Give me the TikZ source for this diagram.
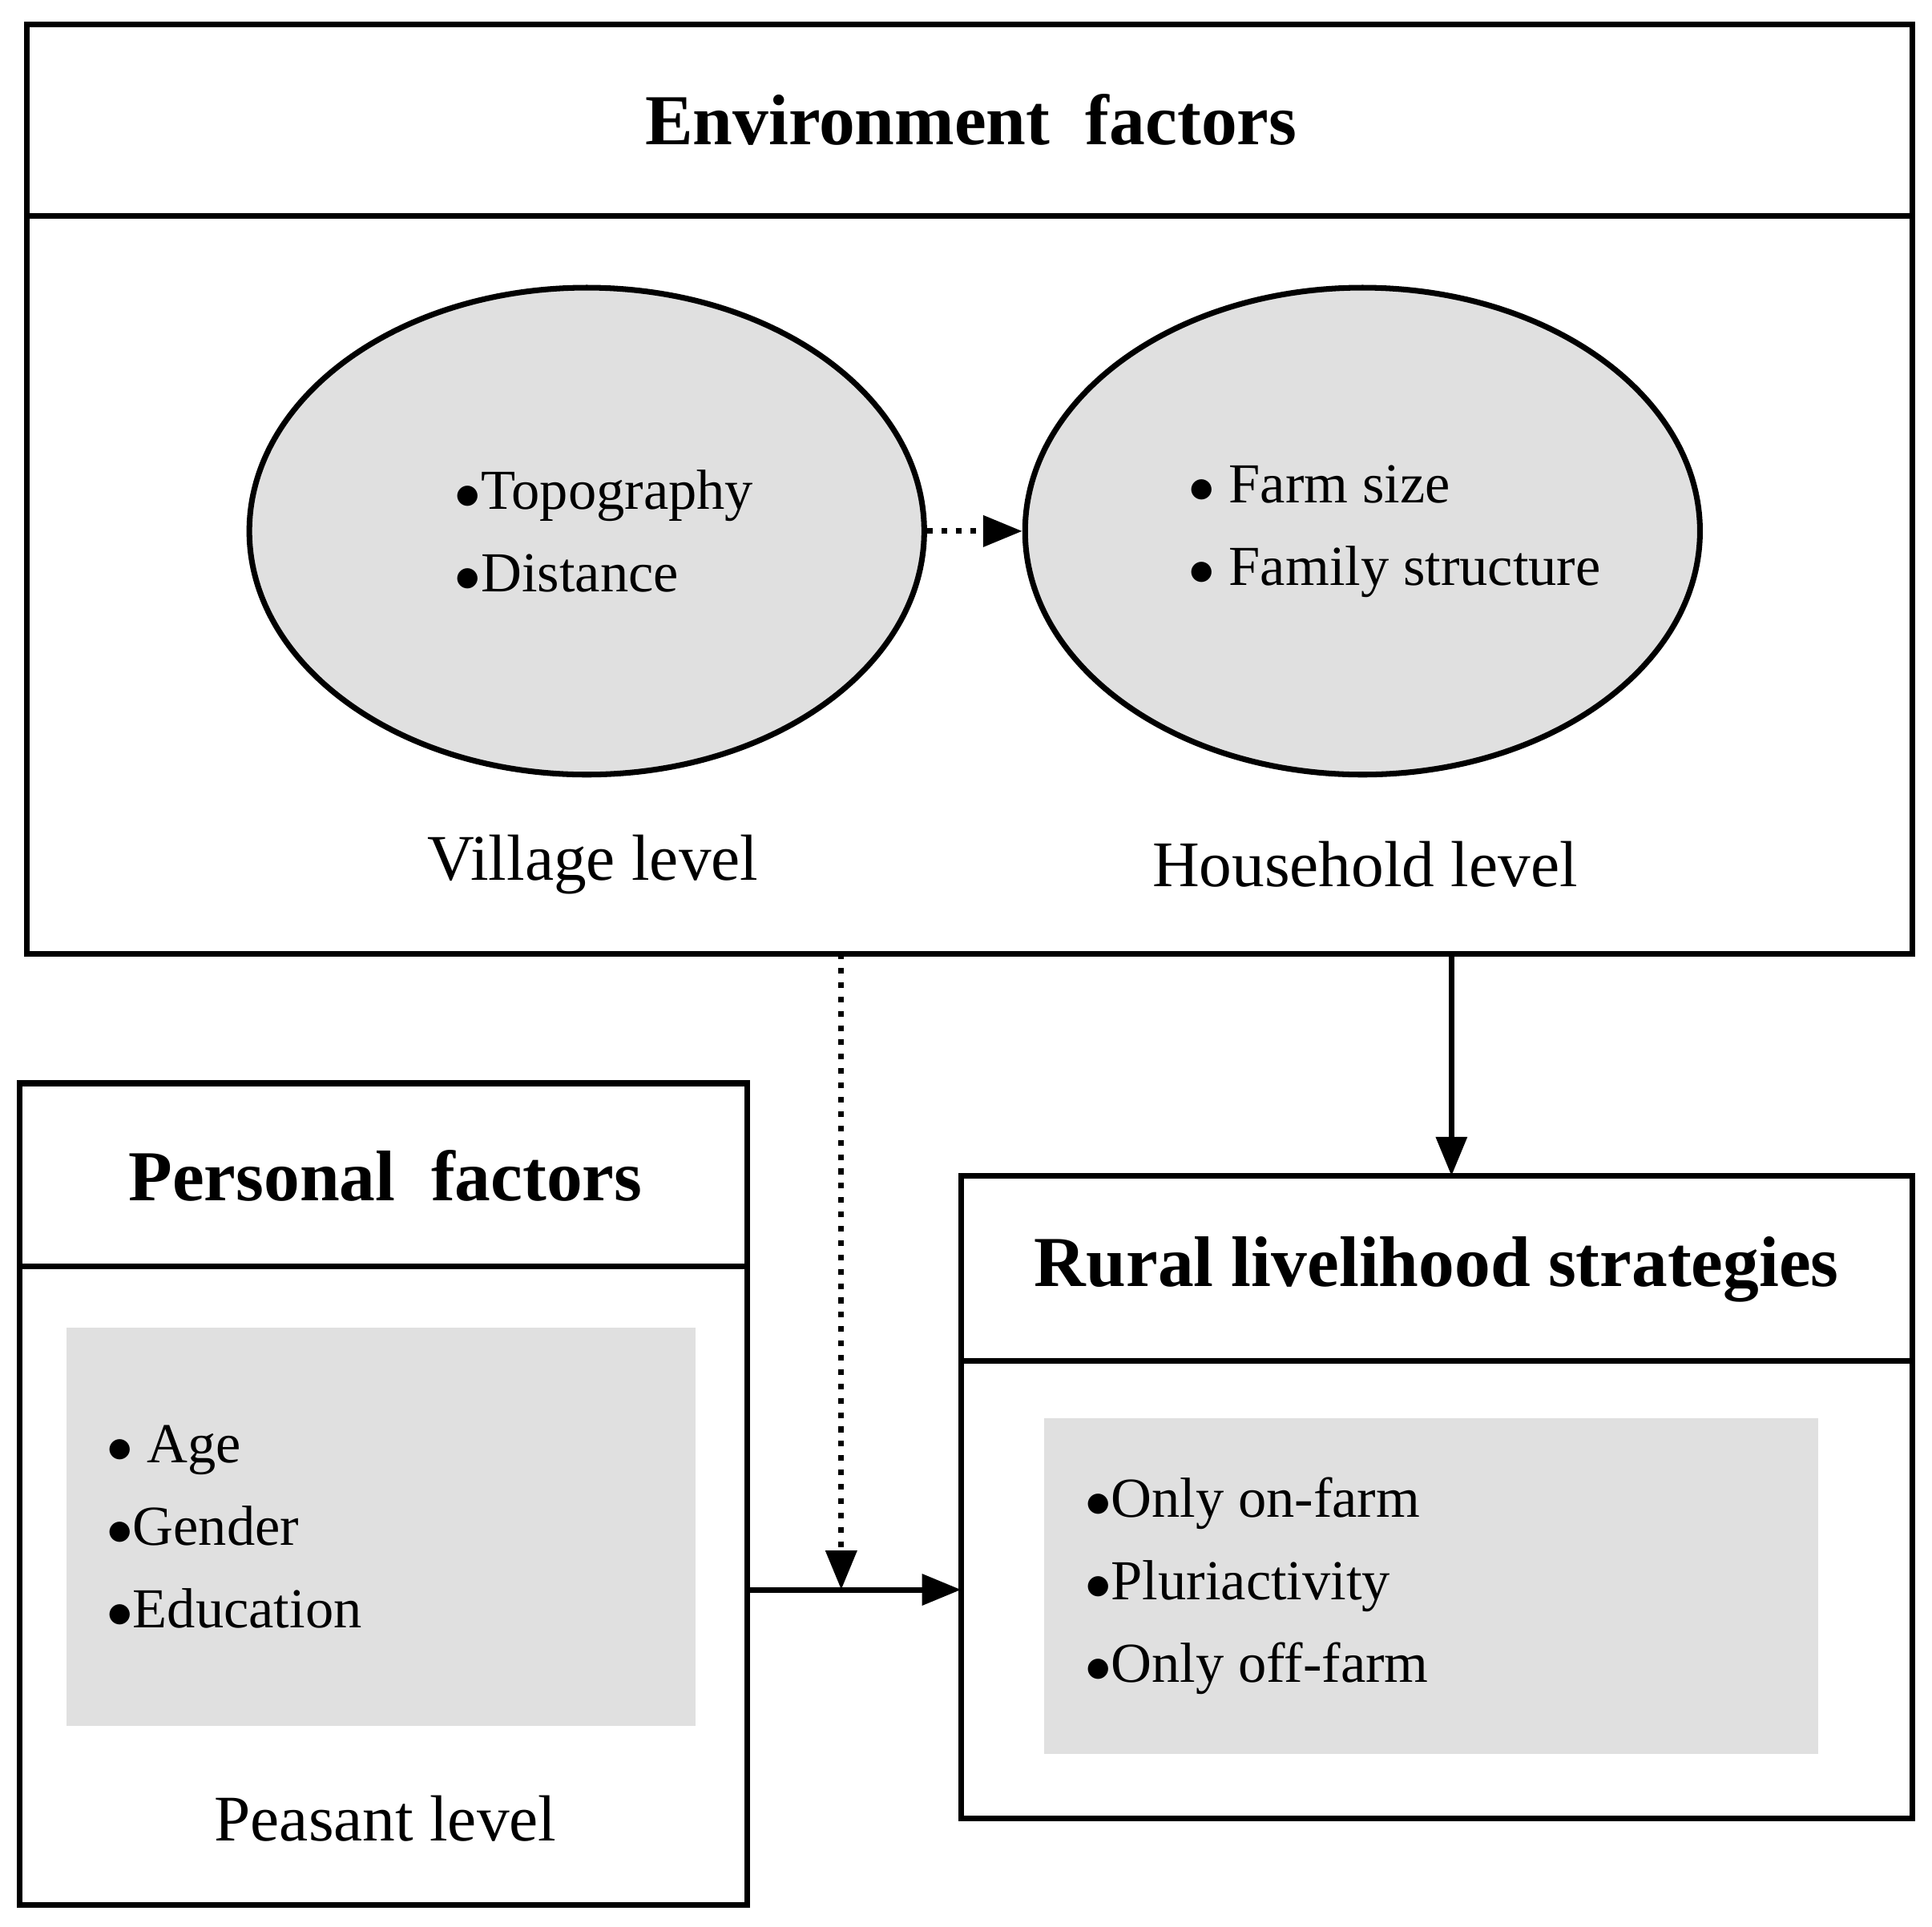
\documentclass[tikz,border=0pt]{standalone}
\usepackage{fontspec}
\setmainfont{Liberation Serif}
\usetikzlibrary{arrows.meta,shapes.geometric}
\tikzset{
 box/.style={draw,line width=1.3pt},
 ttl/.style={font=\fontsize{16.5}{18}\selectfont\bfseries},
 lvl/.style={font=\fontsize{15}{17}\selectfont},
 itm/.style={font=\fontsize{13}{19}\selectfont,align=left,anchor=west},
 gfill/.style={fill=black!12},
 arr/.style={-{Triangle[length=9pt,width=7pt]},line width=1.3pt},
 ell/.style={draw,line width=1.3pt,fill=black!12,ellipse,minimum width=5.46cm,minimum height=3.94cm,inner sep=0},
}
\begin{document}
\begin{tikzpicture}[x=0.01cm,y=-0.01cm]
\useasboundingbox (0,0) rectangle (1564,1560);
% environment
\draw[box] (22,20) rectangle (1548,772);
\draw[box] (22,175) -- (1548,175);
\node[ttl] (envt) at (786,97) {Environment\ \ factors};
\node[ell] (vil) at (475,430) {};
\node[ell] (hh) at (1103,430) {};
\node[itm] (vt) at (356,430) {$\bullet$Topography\\$\bullet$Distance};
\node[itm] (ht) at (950,430) {$\bullet$ Farm size\\$\bullet$ Family structure};
\draw[arr,dotted] (vil.east) -- (hh.west);
\node[lvl] (vl) at (480,700) {Village level};
\node[lvl] (hl) at (1105,700) {Household level};
% personal
\draw[box] (16,877) rectangle (605,1542);
\draw[box] (16,1025) -- (605,1025);
\node[ttl] (pt) at (312,952) {Personal\ \ factors};
\draw[gfill,draw=none] (54,1075) rectangle (563,1397);
\node[itm] (pi) at (74,1236) {$\bullet$ Age\\$\bullet$Gender\\$\bullet$Education};
\node[lvl] (pl) at (312,1472) {Peasant level};
% rural
\draw[box] (778,952) rectangle (1548,1472);
\draw[box] (778,1102) -- (1548,1102);
\node[ttl] (rt) at (1163,1028) {Rural livelihood strategies};
\draw[gfill,draw=none] (845,1148) rectangle (1472,1420);
\node[itm] (ri) at (866,1284) {$\bullet$Only on-farm\\$\bullet$Pluriactivity\\$\bullet$Only off-farm};
% connectors
\coordinate (e1) at (1175,772);
\coordinate (r1) at (1175,952);
\draw[arr] (e1) -- (r1);
\coordinate (p1) at (605,1287);
\coordinate (r2) at (778,1287);
\draw[arr] (p1) -- (r2);
\coordinate (e2) at (681,772);
\coordinate (m) at (681,1287);
\draw[arr,dotted] (e2) -- (m);
\end{tikzpicture}
\end{document}
